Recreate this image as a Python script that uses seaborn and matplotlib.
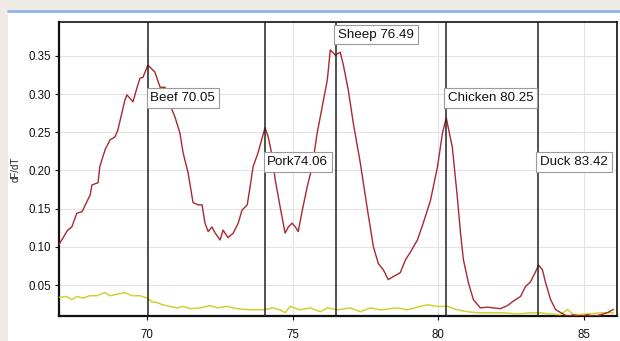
import matplotlib
matplotlib.use("Agg")
import matplotlib.pyplot as plt
import seaborn as sns
import pandas as pd
from matplotlib.patches import Rectangle
from matplotlib.lines import Line2D

# ---- data ----
red_x = [66.98, 67.28, 67.42, 67.59, 67.77, 68.05, 68.11, 68.32, 68.38, 68.56, 68.73, 68.90, 69.0,
         69.24, 69.31, 69.52, 69.66, 69.76, 69.86, 70.03, 70.27, 70.45, 70.62, 70.79, 70.96, 71.13,
         71.24, 71.41, 71.58, 71.75, 71.89, 71.99, 72.10, 72.23, 72.34, 72.51, 72.61, 72.78, 72.96,
         73.13, 73.26, 73.44, 73.54, 73.64, 73.81, 74.05, 74.16, 74.30, 74.40, 74.57, 74.74, 74.85,
         74.98, 75.09, 75.19, 75.33, 75.50, 75.67, 75.84, 76.01, 76.19, 76.29, 76.46, 76.63, 76.74,
         76.91, 77.08, 77.32, 77.56, 77.77, 77.94, 78.11, 78.28, 78.45, 78.69, 78.87, 79.04, 79.28,
         79.48, 79.73, 79.97, 80.14, 80.27, 80.48, 80.65, 80.76, 80.86, 81.03, 81.20, 81.44, 81.68,
         81.89, 82.13, 82.37, 82.54, 82.82, 82.99, 83.16, 83.33, 83.44, 83.57, 83.68, 83.85, 84.02,
         84.19, 84.43, 84.64, 84.88, 85.12, 85.33, 85.57, 85.81, 86.01]
red_y = [0.103, 0.122, 0.126, 0.144, 0.146, 0.168, 0.181, 0.184, 0.205, 0.227, 0.240, 0.244, 0.253,
         0.292, 0.299, 0.290, 0.309, 0.321, 0.322, 0.338, 0.329, 0.309, 0.309, 0.286, 0.270, 0.249,
         0.223, 0.197, 0.158, 0.155, 0.155, 0.131, 0.120, 0.126, 0.118, 0.109, 0.122, 0.112, 0.118,
         0.131, 0.148, 0.155, 0.179, 0.205, 0.223, 0.256, 0.244, 0.218, 0.188, 0.152, 0.118, 0.126,
         0.131, 0.126, 0.120, 0.148, 0.179, 0.205, 0.249, 0.283, 0.319, 0.358, 0.351, 0.355, 0.338,
         0.305, 0.262, 0.210, 0.150, 0.100, 0.078, 0.070, 0.057, 0.061, 0.066, 0.083, 0.093, 0.109,
         0.131, 0.161, 0.205, 0.249, 0.269, 0.230, 0.165, 0.118, 0.083, 0.053, 0.031, 0.020, 0.021,
         0.020, 0.019, 0.023, 0.028, 0.035, 0.048, 0.054, 0.067, 0.076, 0.070, 0.053, 0.031, 0.018,
         0.014, 0.009, 0.011, 0.009, 0.011, 0.009, 0.011, 0.014, 0.018]

yel_x = [67.0, 67.24, 67.42, 67.59, 67.8, 68.04, 68.28, 68.56, 68.73, 68.97, 69.24, 69.48, 69.76,
         70.0, 70.17, 70.34, 70.55, 70.79, 71.03, 71.24, 71.48, 71.82, 72.16, 72.41, 72.75, 73.09,
         73.54, 73.99, 74.33, 74.57, 74.74, 74.91, 75.26, 75.6, 75.95, 76.19, 76.53, 76.98, 77.32,
         77.66, 78.01, 78.59, 78.93, 79.38, 79.62, 79.97, 80.31, 80.65, 81.0, 81.34, 81.79, 82.23,
         82.71, 83.16, 83.5, 83.85, 84.19, 84.43, 84.64, 85.12, 85.57, 86.01]
yel_y = [0.034, 0.035, 0.031, 0.035, 0.033, 0.036, 0.036, 0.040, 0.036, 0.038, 0.040, 0.036, 0.036,
         0.033, 0.028, 0.027, 0.024, 0.022, 0.020, 0.022, 0.019, 0.020, 0.023, 0.020, 0.022, 0.019,
         0.0175, 0.0175, 0.020, 0.0175, 0.0136, 0.022, 0.0175, 0.020, 0.015, 0.020, 0.0175, 0.020, 0.015,
         0.020, 0.0175, 0.020, 0.0175, 0.022, 0.024, 0.022, 0.022, 0.0175, 0.015, 0.0136, 0.0136, 0.0136,
         0.012, 0.0136, 0.0136, 0.012, 0.011, 0.018, 0.011, 0.012, 0.0136, 0.0136]

marker_names = ["Beef", "Pork", "Sheep", "Chicken", "Duck"]
marker_temps = [70.05, 74.06, 76.49, 80.25, 83.42]
marker_labels = ["Beef 70.05", "Pork74.06", "Sheep 76.49", "Chicken 80.25", "Duck 83.42"]
label_y = [0.295, 0.211, 0.378, 0.295, 0.211]

x_ticks = [70, 75, 80, 85]
y_ticks = [0.05, 0.10, 0.15, 0.20, 0.25, 0.30, 0.35]

# ---- style ----
sns.set_theme(style="whitegrid")
plt.rcParams['font.family'] = ['Liberation Sans', 'DejaVu Sans']

fig = plt.figure(figsize=(6.2, 3.41), dpi=100)
fig.patch.set_facecolor("#eeebe7")
fig.patches.append(Rectangle((8 / 620, 0), 1, (341 - 12) / 341, transform=fig.transFigure,
                             facecolor="white", edgecolor="none", zorder=-5))
fig.lines.append(Line2D([8 / 620, 1], [(341 - 11) / 341] * 2, transform=fig.transFigure,
                        color="#8fb8e0", linewidth=2, zorder=-4))

ax = fig.add_axes([59 / 620, 25 / 341, (617 - 59) / 620, (316 - 22) / 341])
ax.set_zorder(2)
ax.set_facecolor("white")

df_red = pd.DataFrame({"T": red_x, "dFdT": red_y})
df_yel = pd.DataFrame({"T": yel_x, "dFdT": yel_y})
sns.lineplot(data=df_yel, x="T", y="dFdT", ax=ax, color="#d2d034", linewidth=1.1, zorder=3)
sns.lineplot(data=df_red, x="T", y="dFdT", ax=ax, color="#aa2830", linewidth=1.0, zorder=4)

for t, lab, ly in zip(marker_temps, marker_labels, label_y):
    ax.axvline(t, color="#222222", linewidth=1.1, zorder=5)
    ax.text(t + 0.07, ly, lab, fontsize=9.6, color="#111111", ha="left", va="center", zorder=6,
            bbox=dict(boxstyle="square,pad=0.28", facecolor="white", edgecolor="#9a9a9a", linewidth=0.8))

ax.set_xlim(66.98, 86.13)
ax.set_ylim(0.0094, 0.3945)
ax.set_xticks(x_ticks)
ax.set_yticks(y_ticks)
ax.set_yticklabels([f"{v:.2f}" for v in y_ticks])
ax.grid(True, color="#e4e4e4", linewidth=0.8)
ax.tick_params(axis="both", which="major", labelsize=8.3, colors="#111111", length=3, width=0.8,
               left=True, bottom=True)
ax.tick_params(axis="x", pad=6)
ax.tick_params(axis="y", pad=3)
ax.set_xlabel("")
ax.set_ylabel("dF/dT", fontsize=7, labelpad=5, color="#222222")
for side, s in ax.spines.items():
    s.set_visible(True)
    s.set_color("#111111")
    s.set_linewidth(1.6 if side in ("left", "bottom") else 1.2)

fig.savefig("out.png", dpi=100, facecolor=fig.get_facecolor())
